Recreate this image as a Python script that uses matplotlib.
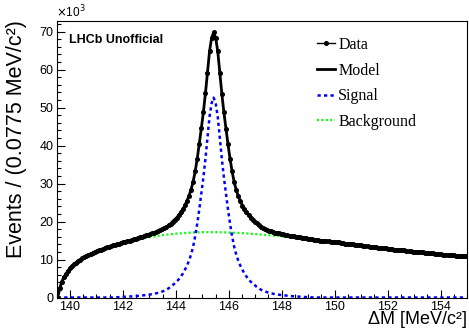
import numpy as np
import matplotlib
matplotlib.use('Agg')
import matplotlib.pyplot as plt
from matplotlib.lines import Line2D

# D* -> D0 pi mass difference fit, 200 bins of 0.0775 MeV from 139.5 to 155
lo, hi, nbins = 139.5, 155.0, 200

# events per bin, in thousands
data = [
	0.0, 2.4, 4.2, 5.3, 6.2, 7.0, 7.7, 8.2, 8.7, 9.2,
	9.6, 10.0, 10.3, 10.7, 10.9, 11.2, 11.5, 11.7, 12.0, 12.2,
	12.4, 12.6, 12.8, 13.0, 13.2, 13.3, 13.5, 13.7, 13.8, 14.0,
	14.2, 14.4, 14.6, 14.7, 14.9, 15.0, 15.2, 15.4, 15.5, 15.7,
	15.9, 16.0, 16.2, 16.4, 16.5, 16.7, 16.9, 17.1, 17.3, 17.5,
	17.7, 18.0, 18.3, 18.6, 19.0, 19.4, 20.0, 20.5, 21.0, 21.7,
	22.4, 23.2, 24.3, 25.4, 26.8, 28.4, 30.5, 33.2, 36.5, 40.4,
	44.5, 48.8, 53.7, 59.2, 64.8, 68.3, 69.8, 68.3, 64.8, 59.2,
	53.6, 48.7, 44.4, 40.3, 36.5, 33.2, 30.4, 28.3, 26.7, 25.4,
	24.2, 23.2, 22.4, 21.6, 21.0, 20.5, 20.0, 19.5, 19.0, 18.6,
	18.3, 18.1, 17.8, 17.6, 17.4, 17.3, 17.1, 17.0, 16.9, 16.7,
	16.6, 16.5, 16.4, 16.3, 16.2, 16.1, 16.0, 15.9, 15.8, 15.7,
	15.6, 15.6, 15.5, 15.4, 15.3, 15.2, 15.2, 15.1, 15.0, 15.0,
	14.9, 14.8, 14.8, 14.7, 14.7, 14.6, 14.5, 14.5, 14.4, 14.3,
	14.2, 14.2, 14.1, 14.0, 14.0, 13.9, 13.8, 13.8, 13.7, 13.6,
	13.5, 13.5, 13.4, 13.3, 13.3, 13.2, 13.1, 13.1, 13.0, 12.9,
	12.9, 12.8, 12.7, 12.7, 12.6, 12.6, 12.5, 12.5, 12.4, 12.4,
	12.3, 12.2, 12.2, 12.1, 12.1, 12.0, 12.0, 11.9, 11.9, 11.8,
	11.8, 11.7, 11.6, 11.6, 11.5, 11.5, 11.4, 11.4, 11.3, 11.3,
	11.2, 11.2, 11.2, 11.1, 11.0, 11.0, 11.0, 10.9, 10.9, 10.8,
]

# signal pdf per bin (thousands), peak at ~145.42
signal = [0.0] * 28 + [
	0.03, 0.05, 0.08, 0.11, 0.14, 0.17, 0.20, 0.24, 0.28, 0.32,
	0.36, 0.41, 0.46, 0.52, 0.58, 0.64, 0.71, 0.79, 0.88, 0.98,
	1.10, 1.24, 1.40, 1.58, 1.80, 2.07, 2.40, 2.80, 3.25, 3.70,
	4.20, 4.80, 5.50, 6.30, 7.30, 8.40, 9.70, 11.3, 13.4, 16.1,
	19.4, 23.2, 27.3, 31.6, 36.5, 42.0, 47.6, 51.1, 52.6, 51.1,
	47.6, 42.0, 36.5, 31.6, 27.3, 23.2, 19.4, 16.1, 13.4, 11.3,
	9.70, 8.40, 7.30, 6.30, 5.50, 4.80, 4.20, 3.70, 3.25, 2.80,
	2.40, 2.07, 1.80, 1.58, 1.40, 1.24, 1.10, 0.98, 0.88, 0.79,
	0.71, 0.64, 0.58, 0.52, 0.46, 0.41, 0.36, 0.32, 0.28, 0.24,
	0.20, 0.17, 0.14, 0.11, 0.08, 0.05, 0.03,
] + [0.0] * 75

# background pdf (thousands)
bkg_x = [139.5, 139.57, 139.6, 139.65, 139.7, 139.8, 139.9, 140.0, 140.25, 140.5,
	140.75, 141.0, 141.5, 142.0, 142.5, 143.0, 143.5, 144.0, 144.5, 145.0,
	145.5, 146.0, 146.5, 147.0, 147.5, 148.0, 148.5, 149.0, 149.5, 150.0,
	150.5, 151.0, 151.5, 152.0, 152.5, 153.0, 153.5, 154.0, 154.5, 155.0]
bkg = [0.0, 0.0, 2.0, 3.3, 4.3, 5.7, 6.8, 7.7, 9.3, 10.5,
	11.4, 12.2, 13.4, 14.4, 15.2, 15.9, 16.4, 16.8, 17.05, 17.2,
	17.2, 17.1, 16.95, 16.7, 16.4, 16.1, 15.75, 15.4, 15.0, 14.6,
	14.15, 13.7, 13.25, 12.8, 12.45, 12.1, 11.75, 11.4, 11.1, 10.8]

edges = np.linspace(lo, hi, nbins + 1)
centers = 0.5 * (edges[:-1] + edges[1:])
half_w = 0.5 * (edges[1] - edges[0])
y = np.array(data)
yerr = np.sqrt(y * 1000.0) / 1000.0

sig_style = dict(color='#0000ff', lw=1.8, ls=(0, (1.3, 1.3)))
bkg_style = dict(color='#00ff00', lw=1.6, ls=(0, (0.9, 1.1)))

plt.rcParams['font.family'] = ['Liberation Sans', 'DejaVu Sans']
fig = plt.figure(figsize=(4.69, 3.28), dpi=100)
ax = fig.add_axes([56.7 / 469, 1 - 297.5 / 328, (467 - 56.7) / 469, (297.5 - 20.5) / 328])

ax.plot(bkg_x, bkg, zorder=2, **bkg_style)
ax.plot(centers, signal, zorder=2, **sig_style)
# model curve goes through the data
ax.plot(centers, y, color='black', lw=2.0, zorder=3)
ax.errorbar(centers, y, xerr=half_w, yerr=yerr, fmt='o', color='black',
	ms=2.6, elinewidth=0.8, capsize=0, zorder=4)

ax.set_xlim(lo, hi)
ax.set_ylim(0, 72.9)
ax.xaxis.set_major_locator(plt.MultipleLocator(2))
ax.xaxis.set_minor_locator(plt.MultipleLocator(0.5))
ax.yaxis.set_major_locator(plt.MultipleLocator(10))
ax.yaxis.set_minor_locator(plt.MultipleLocator(2))
ax.tick_params(which='both', direction='in', top=False, right=False, labelsize=9)
ax.tick_params(which='major', length=5.8, width=0.8)
ax.tick_params(which='minor', length=3.0, width=0.8)
ax.tick_params(axis='x', pad=2.5)
ax.tick_params(axis='y', pad=2.5)
for s in ax.spines.values():
	s.set_linewidth(0.8)

ax.set_xlabel('ΔM [MeV/c²]', fontsize=13, ha='right', va='bottom')
ax.xaxis.set_label_coords(1.0, -0.11)
ax.set_ylabel('Events / (0.0775 MeV/c²)', fontsize=15.5, ha='right')
ax.yaxis.set_label_coords(-0.072, 1.0)

fig.text(56 / 469, 1 - 12 / 328, r'$\times$10$^{3}$', fontsize=8.5, va='center')
ax.text(0.03, 0.93, 'LHCb Unofficial', transform=ax.transAxes, fontsize=9,
	fontweight='bold', va='center')

handles = [
	Line2D([], [], color='black', lw=1.0, marker='o', ms=2.6),
	Line2D([], [], color='black', lw=2.0),
	Line2D([], [], **sig_style),
	Line2D([], [], **bkg_style),
]
ax.legend(handles, ['Data', 'Model', 'Signal', 'Background'],
	loc='upper left', bbox_to_anchor=(316.7 / 469, 1 - 37 / 328),
	bbox_transform=fig.transFigure, frameon=False, borderpad=0, borderaxespad=0,
	handlelength=1.15, handletextpad=0.2, labelspacing=0.6,
	prop={'family': 'Liberation Serif', 'size': 11.5})

fig.savefig('out.png', dpi=100)
